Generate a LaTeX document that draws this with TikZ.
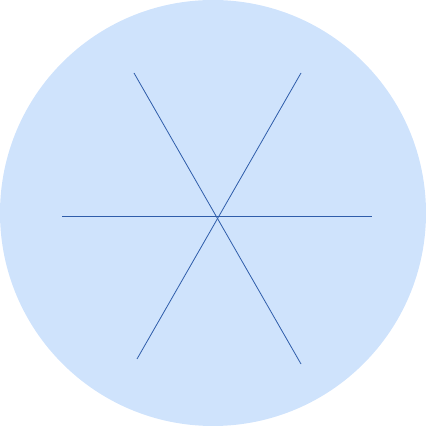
\documentclass[tikz,border=0pt]{standalone}
\usepackage{xcolor}
\usepackage{tikz}
\definecolor{discfill}{RGB}{207,227,252}
\definecolor{spokeblue}{RGB}{47,93,170}

\begin{document}
\begin{tikzpicture}[x=1pt,y=1pt, spoke/.style={spokeblue, line width=0.8pt}]
    \useasboundingbox (0,0) rectangle (426,426);
    \fill[discfill] (213,213) circle (213);
    \coordinate (left) at (62,210);
    \coordinate (right) at (372,210);
    \coordinate (topleft) at (134,353);
    \coordinate (botright) at (301,62);
    \coordinate (topright) at (301,353);
    \coordinate (botleft) at (137,67);
    \draw[spoke] (left) -- (right);
    \draw[spoke] (topleft) -- (botright);
    \draw[spoke] (topright) -- (botleft);
\end{tikzpicture}
\end{document}
